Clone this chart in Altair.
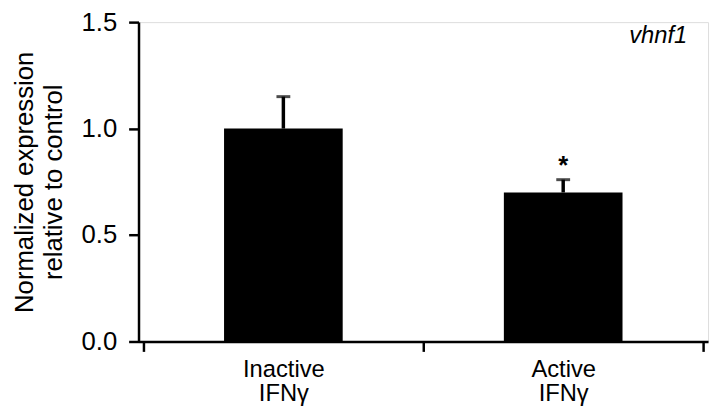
import altair as alt
import pandas as pd

categories = ["Inactive IFNγ", "Active IFNγ"]
label_lines = [["Inactive", "IFNγ"], ["Active", "IFNγ"]]
means = [1.0, 0.70]
errors = [0.15, 0.06]
significance = ["", "*"]
gene = "vhnf1"

positions = [i + 0.5 for i in range(len(categories))]
df = pd.DataFrame({
    "category": categories,
    "pos": positions,
    "mean": means,
    "upper": [m + e for m, e in zip(means, errors)],
    "sig": significance,
})

FONT = "Liberation Sans"

label_expr = " : ".join(
    f"datum.value == {p} ? {lines!r}" for p, lines in zip(positions, label_lines)
) + " : ''"

xaxis = alt.Axis(
    values=[0, 0.5, 1, 1.5, 2],
    labelExpr=label_expr,
    tickOpacity={"condition": {"test": "datum.value % 1 != 0", "value": 0}, "value": 1},
    tickSize=10, tickWidth=2.5, tickColor="black",
    domainColor="black", domainWidth=2.5,
    labelFont=FONT, labelFontSize=24, labelColor="black",
    labelPadding=6, labelLineHeight=25, grid=False, title=None,
    labelBaseline="top",
)
yaxis = alt.Axis(
    values=[0, 0.5, 1.0, 1.5], format=".1f",
    tickSize=10, tickWidth=2.5, tickColor="black",
    domainColor="black", domainWidth=2.5,
    labelFont=FONT, labelFontSize=26, labelColor="black", labelPadding=12,
    title=["Normalized expression", "relative to control"],
    titleFont=FONT, titleFontSize=26, titleFontWeight="normal", titleColor="black",
    titlePadding=15, titleLineHeight=29, grid=False,
)

x = alt.X("pos:Q", scale=alt.Scale(domain=[0, 2], nice=False, zero=False), axis=xaxis)
y = alt.Y("mean:Q", scale=alt.Scale(domain=[0, 1.5], nice=False), axis=yaxis)

base = alt.Chart(df)
bars = base.mark_bar(size=120, color="black").encode(x=x, y=y)
stems = base.mark_rule(color="black", strokeWidth=3.5).encode(x="pos:Q", y="mean:Q", y2="upper:Q")
caps = base.mark_tick(orient="horizontal", color="black", size=14, thickness=3).encode(x="pos:Q", y="upper:Q")
stars = base.mark_text(font=FONT, fontSize=26, fontWeight="bold", color="black", dy=-14, baseline="middle").encode(
    x="pos:Q", y="upper:Q", text="sig:N")
gene_label = alt.Chart(pd.DataFrame({"t": [gene]})).mark_text(
    font=FONT, fontSize=24, fontStyle="italic", color="black", align="right", baseline="middle"
).encode(x=alt.value(555), y=alt.value(14), text="t:N")

chart = alt.layer(bars, stems, caps, stars, gene_label).properties(
    width=576, height=323,
    autosize=alt.AutoSizeParams(type="none"),
    padding={"left": 132, "top": 12, "right": 4, "bottom": 67},
).configure_view(stroke="black", strokeWidth=2.5).configure(background="white")

chart.save("out.html", embed_options={"renderer": "svg", "actions": False})
